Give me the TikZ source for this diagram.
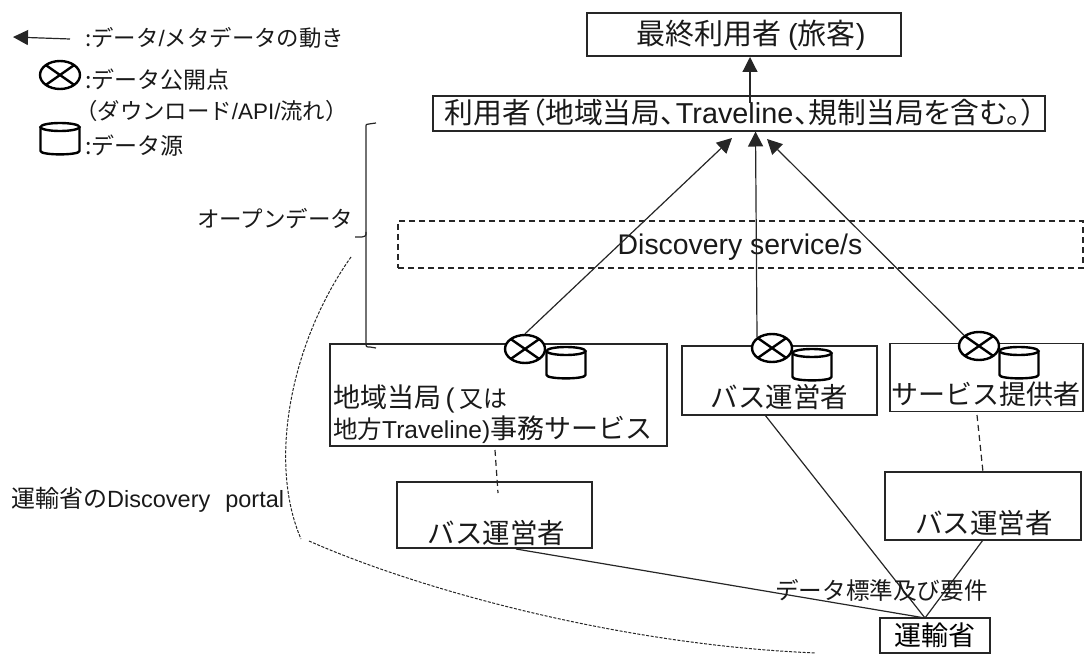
\documentclass[tikz,border=0pt]{standalone}
\usepackage{fontspec}
\setmainfont{Noto Sans CJK JP}
\newfontfamily\latf{Liberation Sans}
\newcommand{\lat}[1]{{\latf #1}}
\usetikzlibrary{shapes.geometric,arrows.meta}
\newcommand{\fs}[1]{\fontsize{#1}{#1}\selectfont}
\tikzset{
  ln/.style={line width=1.2pt,draw=black!85},
  box/.style={ln,rectangle,fill=white,inner sep=0pt},
  txt/.style={inner sep=0pt,anchor=west,text=black!90},
  ctxt/.style={inner sep=0pt,anchor=center,text=black!90},
  arr/.style={ln,-{Triangle[length=15pt,width=15pt]}},
  dashln/.style={ln,dash pattern=on 6pt off 4pt},
  pub/.style={ellipse,draw=black,line width=2.4pt,fill=white,minimum width=40pt,minimum height=28pt,inner sep=0pt,
    path picture={\draw[line width=2.4pt] (path picture bounding box.north west)--(path picture bounding box.south east)
      (path picture bounding box.north east)--(path picture bounding box.south west);}},
  pics/drum/.style={code={
    \draw[line width=2.4pt,fill=white,line join=round]
      (-19.5,-12) -- (-19.5,12) .. controls (-19.5,16.5) and (19.5,16.5) .. (19.5,12) -- (19.5,-12);
    \draw[line width=2.4pt,fill=white] (0,-12) ellipse [x radius=19.5,y radius=4];
  }}
}
\begin{document}
\begin{tikzpicture}[x=1pt,y=-1pt]
\useasboundingbox (0,0) rectangle (1085,655);
% main boxes
\node[box,minimum width=314pt,minimum height=43pt] (final) at (744,34.5) {};
\node[ctxt] (finalt) at (751,35) {\fs{29}最終利用者 \lat{(}旅客\lat{)}};
\node[box,minimum width=612pt,minimum height=35pt] (users) at (739,113.5) {};
\node[rectangle,dashln,minimum width=685pt,minimum height=47pt,inner sep=0pt] (disc) at (740.5,244.5) {};
\node[ctxt] (disct) at (740,247) {\fs{28.4}\lat{Discovery service/s}};
\node[box,minimum width=337pt,minimum height=102pt] (la) at (498.5,395) {};
\node[box,minimum width=195pt,minimum height=69pt] (bus1) at (779.5,380.5) {};
\node[box,minimum width=193pt,minimum height=68pt] (sp) at (986.5,377.5) {};
\node[box,minimum width=195pt,minimum height=66pt] (bus2) at (494.5,515) {};
\node[box,minimum width=196pt,minimum height=68pt] (bus3) at (983,506) {};
\node[box,minimum width=110pt,minimum height=35pt] (dft) at (935,635.5) {\fs{27}運輸省};
% box texts
\node[ctxt] (userst) at (740,113) {\addfontfeatures{RawFeature=+palt}\fs{28.8}利用者（地域当局、\kern1pt\lat{Traveline}\kern1pt、規制当局を含む。）};
\node[txt] (la1) at (333,399) {\fs{27}地域当局\,\lat{(}\,\fs{24}又は};
\node[txt] (la2) at (333,430) {\fs{24.5}地方\lat{Traveline)}\fs{27}事務サービス};
\node[ctxt] (bus1t) at (779.5,397) {\fs{27.5}バス運営者};
\node[ctxt] (spt) at (986,394) {\fs{27}サービス提供者};
\node[ctxt] (bus2t) at (496.5,533) {\fs{27.5}バス運営者};
\node[ctxt] (bus3t) at (984,523) {\fs{27.5}バス運営者};
% connector ends
\coordinate (u1) at (732,138);
\coordinate (u2) at (755.5,131.5);
\coordinate (u3) at (767,139);
\coordinate (f1) at (750,57);
\coordinate (u0) at (750,103);
\coordinate (d1) at (925,618);
\coordinate (s1) at (765,415);
\coordinate (s2) at (983,540);
\coordinate (s3) at (516,549);
\coordinate (a1) at (495,450);
\coordinate (a2) at (498,493);
\coordinate (b1) at (977,415);
\coordinate (b2) at (983,472);
% publication points
\node[pub] (p1) at (525,349) {};
\node[pub] (p2) at (772,348) {};
\node[pub] (p3) at (979,346) {};
\pic at (566,363) {drum};
\pic at (812,365) {drum};
\pic at (1019,363) {drum};
% arrows
\draw[arr] (u0) -- (f1);
\draw[arr] (p1.north) -- (u1);
\draw[arr] (p2.north west) -- (u2);
\draw[arr] (p3.north west) -- (u3);
\draw[ln] (s1) -- (d1);
\draw[ln] (s2) -- (d1);
\draw[ln] (s3) -- (d1);
\draw[dashln] (a1) -- (a2);
\draw[dashln] (b1) -- (b2);
\node[txt] (std) at (775,590) {\fs{23.6}データ標準及び要件};
% legend
\coordinate (lg1) at (70,39);
\coordinate (lg2) at (13,37);
\draw[arr] (lg1) -- (lg2);
\node[txt] (lt1) at (85,38) {\fs{22.4}:データ\lat{/}メタデータの動き};
\node[pub] (lp) at (60,75) {};
\node[txt] (lt2) at (85,80) {\fs{23}:データ公開点};
\node[txt] (lt3) at (75,111) {\fs{22.4}（ダウンロード\lat{/API/}流れ）};
\pic at (60,139) {drum};
\node[txt] (lt4) at (85,146) {\fs{23}:データ源};
% brace
\coordinate (br1) at (376,123);
\coordinate (br2) at (376,348);
\coordinate (br3) at (355,237);
\draw[ln] (br1) -- (369,124) .. controls (366,124) .. (366,128) -- (366,232) .. controls (366,236) .. (362,237) -- (br3);
\draw[ln] (366,232) -- (366,342) .. controls (366,347) .. (370,347) -- (br2);
\node[txt] (od) at (197,219) {\fs{22.5}オープンデータ};
% discovery portal
\coordinate (c1) at (351,257);
\coordinate (c2) at (301,539);
\coordinate (c3) at (309,541);
\coordinate (c4) at (816,653);
\draw[ln,line width=1pt,dash pattern=on 3pt off 1.5pt] (c1) .. controls (292,340) and (267,460) .. (c2);
\draw[ln,line width=1pt,dash pattern=on 3pt off 1.5pt] (c3) .. controls (420,590) and (620,645) .. (c4);
\node[txt] (dp) at (11,500) {\fs{24}運輸省の\fs{23.5}\lat{Discovery\hspace{15pt}portal}};
\end{tikzpicture}
\end{document}
